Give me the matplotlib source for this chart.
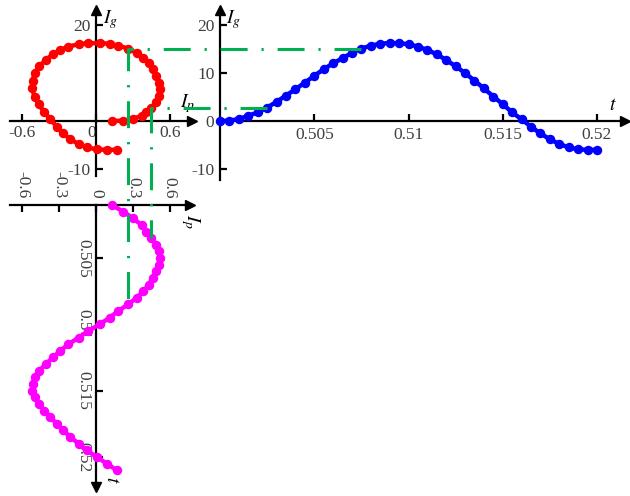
import matplotlib
matplotlib.use('Agg')
import matplotlib.pyplot as plt
from matplotlib.lines import Line2D

plt.rcParams['font.family'] = ['Liberation Serif', 'DejaVu Serif']
plt.rcParams['mathtext.fontset'] = 'stix'
plt.rcParams['lines.scale_dashes'] = False

# ---------------- data ----------------
t = [0.5000, 0.5005, 0.5010, 0.5015, 0.5020, 0.5025, 0.5030, 0.5035, 0.5040, 0.5045,
     0.5050, 0.5055, 0.5060, 0.5065, 0.5070, 0.5075, 0.5080, 0.5085, 0.5090, 0.5095,
     0.5100, 0.5105, 0.5110, 0.5115, 0.5120, 0.5125, 0.5130, 0.5135, 0.5140, 0.5145,
     0.5150, 0.5155, 0.5160, 0.5165, 0.5170, 0.5175, 0.5180, 0.5185, 0.5190, 0.5195,
     0.5200]
Ig = [0.0, 0.07, 0.42, 1.1, 1.8, 2.8, 4.0, 5.3, 6.6, 8.0,
      9.4, 10.8, 12.0, 13.1, 14.2, 15.1, 15.7, 16.1, 16.25, 16.2,
      16.0, 15.5, 14.8, 13.9, 12.7, 11.4, 10.0, 8.4, 6.8, 5.1,
      3.5, 1.8, 0.35, -1.2, -2.6, -3.8, -4.8, -5.5, -5.9, -6.0,
      -6.0]
Ip = [0.128, 0.222, 0.30, 0.37, 0.41, 0.45, 0.49, 0.51, 0.52, 0.51,
      0.49, 0.46, 0.43, 0.385, 0.33, 0.26, 0.18, 0.11, 0.03, -0.063,
      -0.14, -0.225, -0.29, -0.35, -0.41, -0.46, -0.50, -0.515, -0.52, -0.50,
      -0.465, -0.42, -0.37, -0.32, -0.265, -0.21, -0.14, -0.075, 0.005, 0.087,
      0.168]
guide_idx = [5, 15]

ax1_xticks = [-0.6, 0, 0.6]
ax1_xticklabels = ['-0.6', '0', '0.6']
ax1_yticks = [-10, 20]
ax1_yticklabels = ['-10', '20']
ax2_xticks = [0.505, 0.51, 0.515, 0.52]
ax2_xticklabels = ['0.505', '0.51', '0.515', '0.52']
ax2_yticks = [-10, 0, 10, 20]
ax2_yticklabels = ['-10', '0', '10', '20']
ax3_xticks = [-0.6, -0.3, 0, 0.3, 0.6]
ax3_xticklabels = ['-0.6', '-0.3', '0', '0.3', '0.6']
ax3_yticks = [0.504, 0.509, 0.514, 0.519]
ax3_yticklabels = ['0.505', '0.51', '0.515', '0.52']

# ---------------- layout ----------------
W, H = 630, 496
fig = plt.figure(figsize=(W / 100, H / 100), dpi=100)
fig.patch.set_facecolor('white')

def add_axes_px(l, tp, r, b):
    return fig.add_axes([l / W, 1 - b / H, (r - l) / W, (b - tp) / H])

IP0, IPS = 96, 123.0      # px of Ip=0, px per unit Ip
IG0, IGS = 121, 4.8       # px of Ig=0, px per unit Ig
TX0, TXS = 220, 18850.0   # horizontal t axis
TY0, TYS = 205, 13260.0   # vertical t axis

TICKC = '#404040'
FS = 12.5
SPW = 1.6
LW, MS = 3.2, 5.8

def style(ax):
    for s in ax.spines.values():
        s.set_linewidth(SPW)
        s.set_color('black')
    ax.set_facecolor('none')
    ax.tick_params(direction='in', length=5, width=SPW, colors='black',
                   labelcolor=TICKC, labelsize=FS)

# ax1: Ip vs Ig
ax1 = add_axes_px(10, 10, 192, 176)
ax1.set_xlim((10 - IP0) / IPS, (192 - IP0) / IPS)
ax1.set_ylim((IG0 - 176) / IGS, (IG0 - 10) / IGS)
style(ax1)
ax1.spines['left'].set_position(('data', 0))
ax1.spines['bottom'].set_position(('data', 0))
ax1.spines['right'].set_visible(False)
ax1.spines['top'].set_visible(False)
ax1.set_xticks(ax1_xticks)
ax1.set_xticklabels(ax1_xticklabels)
ax1.set_yticks(ax1_yticks)
ax1.set_yticklabels(ax1_yticklabels)
ax1.tick_params(axis='x', pad=3)
ax1.tick_params(axis='y', pad=4)
ax1.get_xticklabels()[1].set_ha('right')
ax1.plot(Ip, Ig, '-o', color='#ff0000', lw=LW, ms=MS, clip_on=False, zorder=3)
ax1.plot(1, 0, '>k', ms=7, transform=ax1.get_yaxis_transform(), clip_on=False)
ax1.plot(0, 1, '^k', ms=7, transform=ax1.get_xaxis_transform(), clip_on=False)

# ax2: t vs Ig
ax2 = add_axes_px(220, 10, 625, 180)
ax2.set_xlim(0.5, 0.5 + (625 - TX0) / TXS)
ax2.set_ylim((IG0 - 180) / IGS, (IG0 - 10) / IGS)
style(ax2)
ax2.spines['bottom'].set_position(('data', 0))
ax2.spines['right'].set_visible(False)
ax2.spines['top'].set_visible(False)
ax2.set_xticks(ax2_xticks)
ax2.set_xticklabels(ax2_xticklabels)
ax2.set_yticks(ax2_yticks)
ax2.set_yticklabels(ax2_yticklabels)
ax2.tick_params(axis='x', pad=4)
ax2.tick_params(axis='y', pad=4)
ax2.plot(t, Ig, '-o', color='#0000ff', lw=LW, ms=MS, clip_on=False, zorder=3)
ax2.plot(1, 0, '>k', ms=7, transform=ax2.get_yaxis_transform(), clip_on=False)
ax2.plot(0.5, 1, '^k', ms=7, transform=ax2.get_xaxis_transform(), clip_on=False)

# ax3: Ip vs t (t downward)
ax3 = add_axes_px(10, 205, 190, 487)
ax3.set_xlim((10 - IP0) / IPS, (190 - IP0) / IPS)
ax3.set_ylim(0.5 + (487 - TY0) / TYS, 0.5)
style(ax3)
ax3.spines['left'].set_position(('data', 0))
ax3.spines['right'].set_visible(False)
ax3.spines['bottom'].set_visible(False)
ax3.xaxis.set_ticks_position('top')
ax3.set_xticks(ax3_xticks)
ax3.set_xticklabels(ax3_xticklabels, rotation=-90)
ax3.set_yticks(ax3_yticks)
ax3.set_yticklabels(ax3_yticklabels, rotation=-90, va='center')
ax3.tick_params(axis='x', pad=5)
ax3.tick_params(axis='y', pad=3)
ax3.plot(Ip, t, '-o', color='#ff00ff', lw=LW, ms=MS, clip_on=False, zorder=3)
ax3.plot(1, 0.5, '>k', ms=7, transform=ax3.get_yaxis_transform(), clip_on=False)
ax3.plot(0, 0, 'vk', ms=7, transform=ax3.get_xaxis_transform(), clip_on=False)

# axis labels
def ftxt(x, y, s, **kw):
    fig.text(x / W, 1 - y / H, s, **kw)

ftxt(103, 20, r'$I_g$', fontsize=14, ha='left', va='center')
ftxt(180, 104, r'$I_p$', fontsize=14, ha='left', va='center')
ftxt(226, 20, r'$I_g$', fontsize=14, ha='left', va='center')
ftxt(613, 106, r'$t$', fontsize=14, ha='center', va='center')
ftxt(190, 222, r'$I_p$', fontsize=14, ha='center', va='center', rotation=-90)
ftxt(111, 480, r'$t$', fontsize=14, ha='center', va='center', rotation=-90)

# green guide lines: blue point -> red point -> magenta point
inv = fig.transFigure.inverted()
for i in guide_idx:
    pb = ax2.transData.transform((t[i], Ig[i]))
    pr = ax1.transData.transform((Ip[i], Ig[i]))
    pm = ax3.transData.transform((Ip[i], t[i]))
    pts = inv.transform([pb, pr, pm])
    ln = Line2D(pts[:, 0], pts[:, 1], transform=fig.transFigure, color='#00b050',
                lw=2.2, linestyle=(0, (19.4, 10, 1.6, 10)), dash_capstyle='butt',
                solid_joinstyle='miter', zorder=5)
    fig.add_artist(ln)

fig.savefig('out.png', dpi=100, facecolor='white')
